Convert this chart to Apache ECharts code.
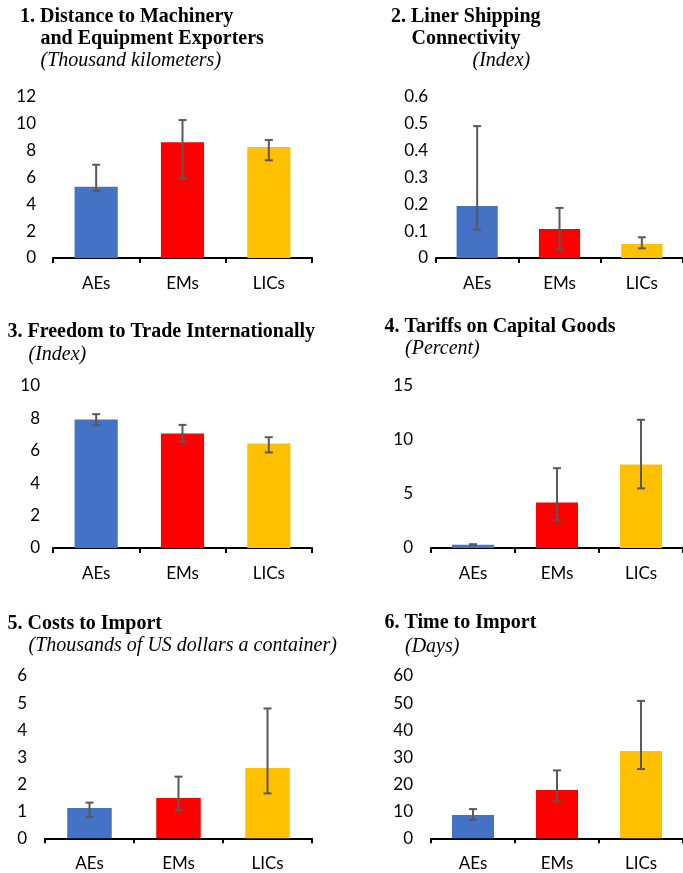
<!DOCTYPE html>
<html>
<head>
<meta charset="utf-8">
<script src="https://cdn.jsdelivr.net/npm/echarts@6/dist/echarts.min.js"></script>
<style>
  html, body { margin: 0; padding: 0; background: #ffffff; }
  #chart { width: 683px; height: 873px; }
</style>
</head>
<body>
<div id="chart"></div>
<script>
// Country groups shown on every panel
const categories = ['AEs', 'EMs', 'LICs'];
const groupColors = ['#4472C4', '#FF0000', '#FFC000'];

// 1. Distance to machinery and equipment exporters (thousand km)
const distanceMid = [5.3, 8.6, 8.25];
const distanceLow = [4.98, 5.9, 7.26];
const distanceHigh = [6.93, 10.25, 8.77];

// 2. Liner shipping connectivity (index)
const linerMid = [0.193, 0.108, 0.052];
const linerLow = [0.105, 0.031, 0.036];
const linerHigh = [0.49, 0.186, 0.077];

// 3. Freedom to trade internationally (index)
const freedomMid = [7.93, 7.07, 6.45];
const freedomLow = [7.58, 6.56, 5.9];
const freedomHigh = [8.26, 7.6, 6.84];

// 4. Tariffs on capital goods (percent)
const tariffMid = [0.3, 4.22, 7.73];
const tariffLow = [0.25, 2.56, 5.52];
const tariffHigh = [0.35, 7.39, 11.87];

// 5. Costs to import (thousand USD per container)
const costMid = [1.12, 1.49, 2.6];
const costLow = [0.79, 1.03, 1.66];
const costHigh = [1.32, 2.28, 4.8];

// 6. Time to import (days)
const timeMid = [8.6, 17.9, 32.3];
const timeLow = [6.9, 13.7, 25.6];
const timeHigh = [10.8, 25.1, 50.8];

// Y-axis ranges
const yMax = [12, 0.6, 10, 15, 6, 60];
const yStep = [2, 0.1, 2, 5, 1, 10];

const panels = [
  { mid: distanceMid, low: distanceLow, high: distanceHigh,
    grid: { left: 53, top: 96.5, width: 259, height: 161.5 }, labelMargin: 17 },
  { mid: linerMid, low: linerLow, high: linerHigh,
    grid: { left: 436, top: 96.5, width: 253, height: 161.5 }, labelMargin: 8 },
  { mid: freedomMid, low: freedomLow, high: freedomHigh,
    grid: { left: 53, top: 386, width: 259, height: 162 }, labelMargin: 13 },
  { mid: tariffMid, low: tariffLow, high: tariffHigh,
    grid: { left: 431, top: 386, width: 257, height: 162 }, labelMargin: 18 },
  { mid: costMid, low: costLow, high: costHigh,
    grid: { left: 45, top: 676, width: 267, height: 162.3 }, labelMargin: 18 },
  { mid: timeMid, low: timeLow, high: timeHigh,
    grid: { left: 431, top: 676, width: 257, height: 162.3 }, labelMargin: 18 }
];

const labelFont = 'Lato, "Open Sans", sans-serif';
const serif = '"Liberation Serif", "Times New Roman", serif';

const grids = [], xAxes = [], yAxes = [], series = [];

panels.forEach((p, i) => {
  grids.push(Object.assign({ containLabel: false }, p.grid));
  xAxes.push({
    type: 'category', gridIndex: i, data: categories,
    axisLine: { lineStyle: { color: '#000000', width: 2 } },
    axisTick: { show: true, inside: false, length: 5, lineStyle: { color: '#000000', width: 2 } },
    axisLabel: { color: '#000000', fontFamily: labelFont, fontSize: 17, margin: 17 },
    splitLine: { show: false }
  });
  yAxes.push({
    type: 'value', gridIndex: i, min: 0, max: yMax[i], interval: yStep[i],
    axisLine: { show: false }, axisTick: { show: false }, splitLine: { show: false },
    axisLabel: { color: '#000000', fontFamily: labelFont, fontSize: 17, margin: p.labelMargin }
  });
  series.push({
    type: 'bar', xAxisIndex: i, yAxisIndex: i, barWidth: '50%',
    data: p.mid.map((v, k) => ({ value: v, itemStyle: { color: groupColors[k] } })),
    z: 2
  });
  series.push({
    type: 'custom', xAxisIndex: i, yAxisIndex: i, z: 5,
    data: categories.map((c, k) => [k, p.low[k], p.high[k]]),
    renderItem: function (params, api) {
      const top = api.coord([api.value(0), api.value(2)]);
      const bot = api.coord([api.value(0), api.value(1)]);
      const cap = 4;
      const st = { stroke: '#595959', lineWidth: 2 };
      return {
        type: 'group',
        children: [
          { type: 'line', shape: { x1: top[0], y1: top[1], x2: bot[0], y2: bot[1] }, style: st },
          { type: 'line', shape: { x1: top[0] - cap, y1: top[1], x2: top[0] + cap, y2: top[1] }, style: st },
          { type: 'line', shape: { x1: bot[0] - cap, y1: bot[1], x2: bot[0] + cap, y2: bot[1] }, style: st }
        ]
      };
    }
  });
});

function heading(text, x, y, italic) {
  return {
    type: 'text', x: x, y: y,
    style: {
      text: text, fill: '#000000',
      font: (italic ? 'italic 20px ' : 'bold 20px ') + serif,
      verticalAlign: 'middle', align: 'left'
    }
  };
}

const headings = [
  heading('1. Distance to Machinery', 20, 17, false),
  heading('and Equipment Exporters', 40.5, 39, false),
  heading('(Thousand kilometers)', 40.5, 61, true),
  heading('2. Liner Shipping', 391, 17, false),
  heading('Connectivity', 411.5, 39, false),
  heading('(Index)', 472.5, 61, true),
  heading('3. Freedom to Trade Internationally', 7.5, 332, false),
  heading('(Index)', 28.5, 355, true),
  heading('4. Tariffs on Capital Goods', 384.5, 327, false),
  heading('(Percent)', 405, 349, true),
  heading('5. Costs to Import', 7.5, 623.5, false),
  heading('(Thousands of US dollars a container)', 28.5, 646, true),
  heading('6. Time to Import', 384.5, 623, false),
  heading('(Days)', 405, 646.5, true)
];

const chart = echarts.init(document.getElementById('chart'), null, { renderer: 'canvas' });
chart.setOption({
  backgroundColor: '#ffffff',
  animation: false,
  grid: grids,
  xAxis: xAxes,
  yAxis: yAxes,
  series: series,
  graphic: headings
});
</script>
</body>
</html>
